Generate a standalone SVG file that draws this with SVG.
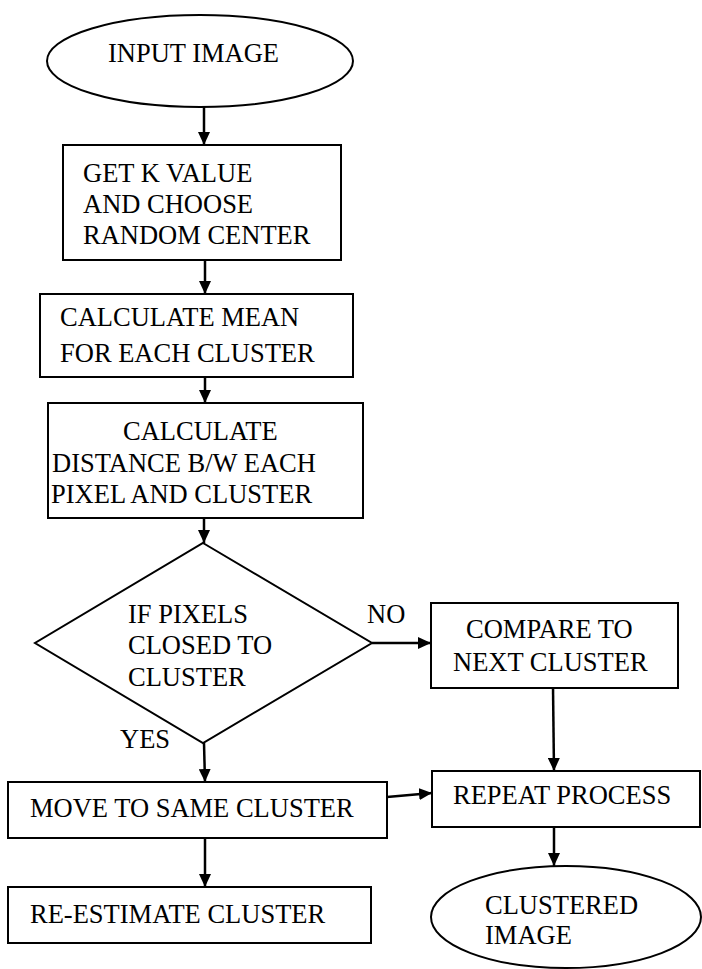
<svg xmlns="http://www.w3.org/2000/svg" width="702" height="969" viewBox="0 0 702 969">
<style>
  .shape { fill: #ffffff; stroke: #000000; stroke-width: 2; }
  .conn { stroke: #000000; stroke-width: 2.5; fill: none; }
  text { font-family: "Liberation Serif", "Times New Roman", serif; font-size: 26.5px; fill: #000000; }
</style>
<defs>
  <marker id="arrow" markerUnits="userSpaceOnUse" viewBox="0 0 13 12" refX="13" refY="6" markerWidth="13" markerHeight="12" orient="auto">
    <path d="M0,0 L13,6 L0,12 z" fill="#000000"/>
  </marker>
</defs>
<rect width="702" height="969" fill="#ffffff"/>

<g id="connectors">
  <line class="conn" x1="204" y1="107" x2="204" y2="145" marker-end="url(#arrow)"/>
  <line class="conn" x1="205" y1="260" x2="205" y2="294" marker-end="url(#arrow)"/>
  <line class="conn" x1="205" y1="377" x2="205" y2="403" marker-end="url(#arrow)"/>
  <line class="conn" x1="204" y1="518" x2="204" y2="543" marker-end="url(#arrow)"/>
  <line class="conn" x1="204" y1="743" x2="205" y2="782" marker-end="url(#arrow)"/>
  <line class="conn" x1="372" y1="643" x2="431" y2="643" marker-end="url(#arrow)"/>
  <line class="conn" x1="553" y1="687" x2="554" y2="771" marker-end="url(#arrow)"/>
  <line class="conn" x1="205" y1="838" x2="205" y2="887" marker-end="url(#arrow)"/>
  <line class="conn" x1="387" y1="797" x2="432" y2="793" marker-end="url(#arrow)"/>
  <line class="conn" x1="554" y1="827" x2="554" y2="866" marker-end="url(#arrow)"/>
</g>

<g id="input-image">
  <ellipse class="shape" cx="200" cy="61" rx="153" ry="46"/>
  <text x="108" y="62">INPUT IMAGE</text>
</g>

<g id="get-k-value">
  <rect class="shape" x="63" y="145" width="278" height="115"/>
  <text x="83" y="182">GET K VALUE</text>
  <text x="83" y="213">AND CHOOSE</text>
  <text x="83" y="244">RANDOM CENTER</text>
</g>

<g id="calculate-mean">
  <rect class="shape" x="40" y="294" width="313" height="83"/>
  <text x="60" y="326">CALCULATE MEAN</text>
  <text x="60" y="362">FOR EACH CLUSTER</text>
</g>

<g id="calculate-distance">
  <rect class="shape" x="48" y="403" width="315" height="115"/>
  <text x="123" y="440">CALCULATE</text>
  <text x="52" y="472">DISTANCE B/W EACH</text>
  <text x="51" y="503">PIXEL AND CLUSTER</text>
</g>

<g id="decision">
  <polygon class="shape" points="203,543 372,643 203,743 35,643"/>
  <text x="128" y="623">IF PIXELS</text>
  <text x="128" y="654">CLOSED TO</text>
  <text x="128" y="686">CLUSTER</text>
</g>

<g id="label-no">
  <text x="367" y="623">NO</text>
</g>
<g id="label-yes">
  <text x="120" y="748">YES</text>
</g>

<g id="compare-next">
  <rect class="shape" x="431" y="603" width="247" height="85"/>
  <text x="466" y="638">COMPARE TO</text>
  <text x="453" y="671">NEXT CLUSTER</text>
</g>

<g id="move-same">
  <rect class="shape" x="8" y="782" width="379" height="56"/>
  <text x="30" y="817">MOVE TO SAME CLUSTER</text>
</g>

<g id="re-estimate">
  <rect class="shape" x="8" y="887" width="363" height="56"/>
  <text x="30" y="923">RE-ESTIMATE CLUSTER</text>
</g>

<g id="repeat-process">
  <rect class="shape" x="432" y="771" width="268" height="56"/>
  <text x="453" y="804">REPEAT PROCESS</text>
</g>

<g id="clustered-image">
  <ellipse class="shape" cx="566" cy="917" rx="135" ry="51"/>
  <text x="485" y="914">CLUSTERED</text>
  <text x="485" y="944">IMAGE</text>
</g>
</svg>
